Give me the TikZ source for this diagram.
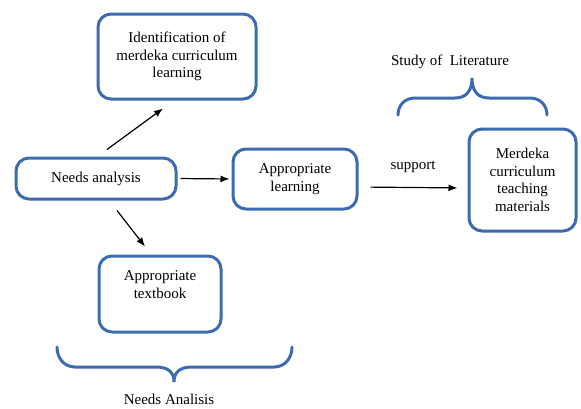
\documentclass[tikz,border=0pt]{standalone}
\usepackage{fontspec}
\setmainfont{Liberation Serif}
\usetikzlibrary{arrows.meta}
\definecolor{boxblue}{RGB}{60,108,175}
\begin{document}
\begin{tikzpicture}[x=1pt,y=-1pt,%
% common options for the boxes:
box/.style = {draw=boxblue, line width=3pt, rounded corners=13pt,
            align=center, inner sep=2pt},
% common options for the arrows:
arr/.style = {-{Latex[length=9pt,width=7pt]}, line width=1.2pt},
% common options for the braces:
brace/.style = {draw=boxblue, line width=3pt, line cap=round}]
\useasboundingbox (0,0) rectangle (581,408);
\fontsize{15}{17.5}\selectfont
\node[box, minimum width=158, minimum height=85] (ident) at (177,56.5) {Identification of\\merdeka curriculum\\learning};
\node[box, minimum width=160, minimum height=41] (needs) at (96,178.5) {Needs analysis};
\node[box, minimum width=124, minimum height=60] (learn) at (295,179) {Appropriate\\learning};
\node[box, minimum width=107, minimum height=102] (merdeka) at (522.5,180) {Merdeka\\curriculum\\teaching\\materials};
\node[box, minimum width=122, minimum height=76,
      label={[align=center, anchor=north, yshift=-11pt]north:Appropriate\\textbook}] (textbook) at (160,294) {};
\node (study) at (450,62) {Study of\ \ Literature};
\node (analisis) at (169,399) {Needs Analisis};
\draw[arr] ([xshift=11pt,yshift=7pt]needs.north) -- ([xshift=-14pt,yshift=-8pt]ident.south);
\draw[arr] ([xshift=21pt,yshift=-10pt]needs.south) -- ([xshift=-15pt,yshift=8pt]textbook.north);
\draw[arr, shorten <=3pt, shorten >=2pt] (needs.east) -- (learn.west);
\draw[arr, shorten <=12pt, shorten >=10pt] ([yshift=-8pt]learn.east) -- node[above=9pt] (support) {support} ([yshift=-8pt]merdeka.west);
% braces
\draw[brace] (398,115) .. controls (398,105) and (405,98) .. (415,98) -- (455,98)
  .. controls (467,98) and (472,90) .. (472,78)
  .. controls (472,90) and (477,98) .. (489,98) -- (530,98)
  .. controls (540,98) and (547,105) .. (547,115);
\draw[brace] (57,347) .. controls (57,358) and (64,367) .. (75,367) -- (156,367)
  .. controls (169,367) and (174,373) .. (174,382)
  .. controls (174,373) and (179,367) .. (192,367) -- (274,367)
  .. controls (285,367) and (292,358) .. (292,347);
\end{tikzpicture}
\end{document}
